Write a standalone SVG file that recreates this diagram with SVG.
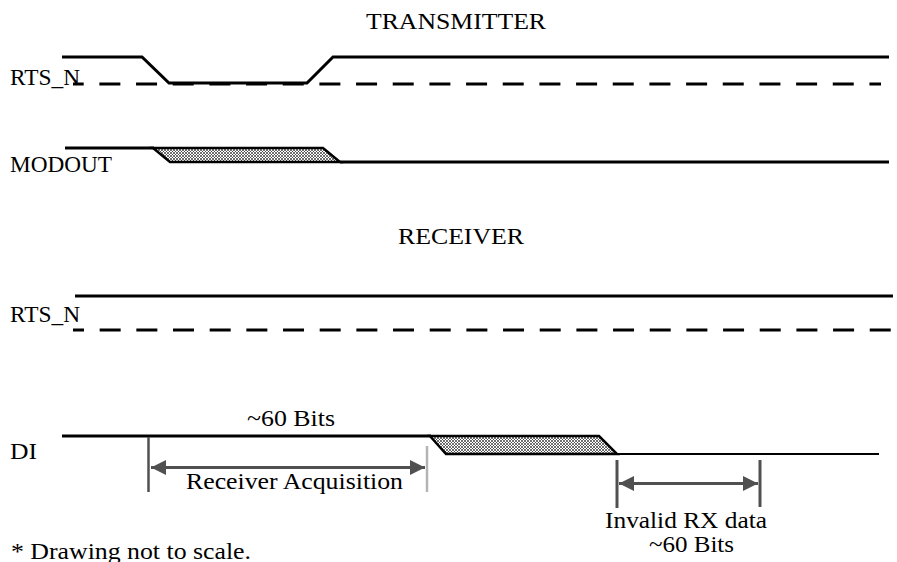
<svg xmlns="http://www.w3.org/2000/svg" width="897" height="562" viewBox="0 0 897 562">
<style>
.sig{fill:none;stroke:#000;stroke-width:3;stroke-linejoin:miter}
.thin{fill:none;stroke:#000;stroke-width:2}
.dash{fill:none;stroke:#000;stroke-width:3;stroke-dasharray:21 15.67}
.hatch{fill:url(#xh);stroke:#000;stroke-width:2.5}
.dim{stroke:#505050;stroke-width:3;fill:none}
.ext{stroke:#505050;stroke-width:2.5}
.extl{stroke:#b4b4b4;stroke-width:2.5}
</style>
<defs>
<pattern id="xh" patternUnits="userSpaceOnUse" width="3" height="3">
<rect width="3" height="3" fill="#ffffff"/>
<path d="M0,0 L3,3 M3,0 L0,3" stroke="#333" stroke-width="0.7"/>
</pattern>
<marker id="ah" viewBox="0 0 15 15" refX="15" refY="7.5" markerWidth="15" markerHeight="15" markerUnits="userSpaceOnUse" orient="auto-start-reverse">
<path d="M0,0 L15,7.5 L0,15 Z" fill="#505050"/>
</marker>
</defs>

<g font-family="Liberation Serif, serif" font-size="24" fill="#000">
<g id="titles">
<text x="366" y="29" textLength="180" lengthAdjust="spacingAndGlyphs">TRANSMITTER</text>
<text x="398" y="244" textLength="126" lengthAdjust="spacingAndGlyphs">RECEIVER</text>
</g>

<g id="tx-rts">
<text x="10" y="85" textLength="70" lengthAdjust="spacingAndGlyphs">RTS_N</text>
<path class="dash" d="M73,84 H881" stroke-dashoffset="10.3"/>
<path class="sig" d="M62,57 H142 L169,83 H307 L333,57 H889"/>
</g>

<g id="tx-modout">
<text x="10" y="172" textLength="102" lengthAdjust="spacingAndGlyphs">MODOUT</text>
<path class="sig" d="M65,148 H154"/>
<path class="hatch" d="M153,148 H323 L340,162 H170 Z"/>
<path class="sig" d="M340,162 H889"/>
</g>

<g id="rx-rts">
<text x="10" y="322" textLength="70" lengthAdjust="spacingAndGlyphs">RTS_N</text>
<path class="sig" d="M75,296 H893"/>
<path class="dash" d="M73,330 H897" stroke-dashoffset="10"/>
</g>

<g id="rx-di">
<text x="10" y="459" textLength="27" lengthAdjust="spacingAndGlyphs">DI</text>
<path class="sig" d="M62,436 H431"/>
<path class="hatch" d="M430,436 H599 L617,454 H446 Z"/>
<path class="thin" d="M617,454 H879"/>
</g>

<g id="connectors">
<line class="ext" x1="148.5" y1="437" x2="148.5" y2="492"/>
<line class="extl" x1="427" y1="446" x2="427" y2="492"/>
<line class="dim" x1="151" y1="467.5" x2="425" y2="467.5" marker-start="url(#ah)" marker-end="url(#ah)"/>
<line class="ext" x1="617" y1="460" x2="617" y2="508" style="stroke-width:3"/>
<line class="ext" x1="760" y1="460" x2="760" y2="507" style="stroke-width:3"/>
<line class="dim" x1="619" y1="483.5" x2="758" y2="483.5" marker-start="url(#ah)" marker-end="url(#ah)"/>
</g>

<g id="labels">
<text x="247" y="426" textLength="88" lengthAdjust="spacingAndGlyphs">~60 Bits</text>
<text x="186" y="489" textLength="217" lengthAdjust="spacingAndGlyphs">Receiver Acquisition</text>
<text x="605" y="528" textLength="162" lengthAdjust="spacingAndGlyphs">Invalid RX data</text>
<text x="649" y="552" textLength="85" lengthAdjust="spacingAndGlyphs">~60 Bits</text>
<text x="11" y="559" textLength="240" lengthAdjust="spacingAndGlyphs">* Drawing not to scale.</text>
</g>
</g>
</svg>
